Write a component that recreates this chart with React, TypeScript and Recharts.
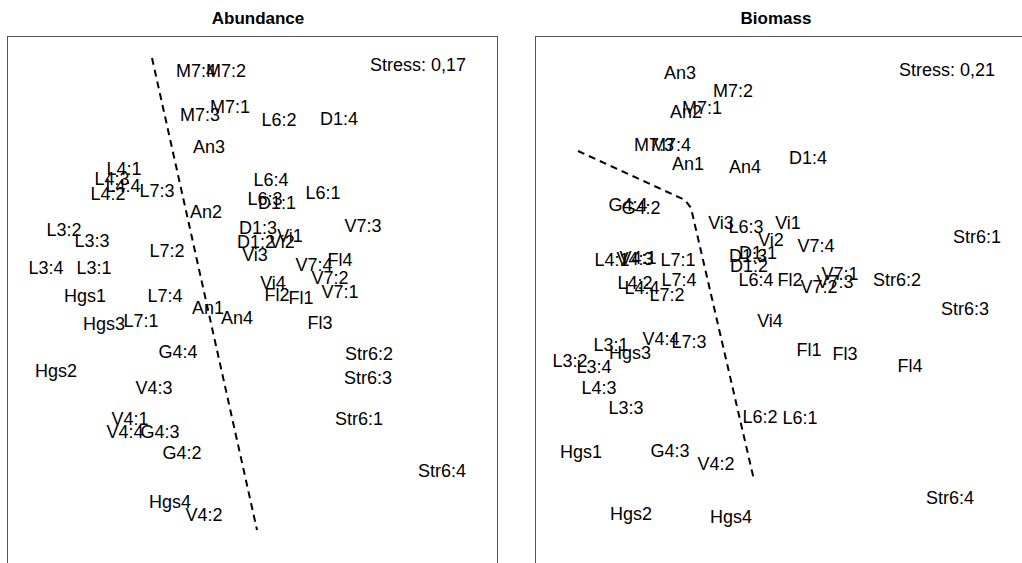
import { Scatter, ScatterChart, XAxis, YAxis } from "recharts";

// site scores (panel units, y up)
const abundanceSites = [
  { label: "M7:4", x: 189, y: 492 },
  { label: "M7:2", x: 219, y: 492 },
  { label: "M7:1", x: 223, y: 456 },
  { label: "M7:3", x: 193, y: 448 },
  { label: "An3", x: 202, y: 416 },
  { label: "L6:2", x: 272, y: 443 },
  { label: "D1:4", x: 332, y: 444 },
  { label: "L4:1", x: 117, y: 394 },
  { label: "L4:3", x: 105, y: 384 },
  { label: "L4:4", x: 116, y: 377 },
  { label: "L4:2", x: 101, y: 369 },
  { label: "L7:3", x: 150, y: 372 },
  { label: "L6:4", x: 264, y: 383 },
  { label: "L6:3", x: 258, y: 364 },
  { label: "D1:1", x: 270, y: 360 },
  { label: "L6:1", x: 316, y: 370 },
  { label: "An2", x: 199, y: 351 },
  { label: "L3:2", x: 57, y: 333 },
  { label: "L3:3", x: 85, y: 322 },
  { label: "D1:3", x: 251, y: 335 },
  { label: "D1:2", x: 249, y: 321 },
  { label: "Vi1", x: 283, y: 327 },
  { label: "Vi2", x: 275, y: 321 },
  { label: "V7:3", x: 356, y: 337 },
  { label: "L7:2", x: 160, y: 312 },
  { label: "Vi3", x: 248, y: 308 },
  { label: "L3:4", x: 39, y: 295 },
  { label: "L3:1", x: 87, y: 295 },
  { label: "V7:4", x: 307, y: 298 },
  { label: "Fl4", x: 333, y: 303 },
  { label: "V7:2", x: 323, y: 285 },
  { label: "Vi4", x: 266, y: 280 },
  { label: "Fl2", x: 270, y: 268 },
  { label: "Fl1", x: 294, y: 265 },
  { label: "V7:1", x: 333, y: 271 },
  { label: "Hgs1", x: 78, y: 267 },
  { label: "L7:4", x: 158, y: 267 },
  { label: "An1", x: 201, y: 255 },
  { label: "An4", x: 230, y: 245 },
  { label: "Hgs3", x: 97, y: 239 },
  { label: "L7:1", x: 134, y: 242 },
  { label: "Fl3", x: 313, y: 240 },
  { label: "G4:4", x: 171, y: 211 },
  { label: "Str6:2", x: 362, y: 209 },
  { label: "Hgs2", x: 49, y: 192 },
  { label: "Str6:3", x: 361, y: 185 },
  { label: "V4:3", x: 147, y: 175 },
  { label: "Str6:1", x: 352, y: 144 },
  { label: "V4:1", x: 123, y: 144 },
  { label: "V4:4", x: 118, y: 131 },
  { label: "G4:3", x: 153, y: 131 },
  { label: "G4:2", x: 175, y: 110 },
  { label: "Str6:4", x: 435, y: 92 },
  { label: "Hgs4", x: 163, y: 61 },
  { label: "V4:2", x: 197, y: 48 },
];

const biomassSites = [
  { label: "An3", x: 145, y: 490 },
  { label: "M7:2", x: 198, y: 472 },
  { label: "M7:1", x: 167, y: 455 },
  { label: "An2", x: 151, y: 451 },
  { label: "M7:3", x: 119, y: 418 },
  { label: "M7:4", x: 136, y: 418 },
  { label: "An1", x: 153, y: 399 },
  { label: "An4", x: 210, y: 396 },
  { label: "D1:4", x: 273, y: 405 },
  { label: "G4:4", x: 93, y: 358 },
  { label: "G4:2", x: 106, y: 355 },
  { label: "Vi3", x: 186, y: 340 },
  { label: "L6:3", x: 211, y: 336 },
  { label: "Vi1", x: 253, y: 340 },
  { label: "Vi2", x: 236, y: 323 },
  { label: "V7:4", x: 281, y: 317 },
  { label: "Str6:1", x: 442, y: 326 },
  { label: "L4:1", x: 77, y: 303 },
  { label: "V4:3", x: 100, y: 304 },
  { label: "V4:1", x: 103, y: 305 },
  { label: "L7:1", x: 143, y: 303 },
  { label: "D1:3", x: 213, y: 307 },
  { label: "D1:1", x: 223, y: 310 },
  { label: "D1:2", x: 214, y: 297 },
  { label: "L4:2", x: 100, y: 280 },
  { label: "L4:4", x: 107, y: 275 },
  { label: "L7:4", x: 144, y: 283 },
  { label: "L7:2", x: 132, y: 268 },
  { label: "L6:4", x: 221, y: 283 },
  { label: "Fl2", x: 255, y: 283 },
  { label: "V7:1", x: 305, y: 289 },
  { label: "V7:3", x: 300, y: 281 },
  { label: "V7:2", x: 284, y: 276 },
  { label: "Str6:2", x: 362, y: 283 },
  { label: "Vi4", x: 235, y: 242 },
  { label: "Str6:3", x: 430, y: 254 },
  { label: "V4:4", x: 126, y: 224 },
  { label: "L7:3", x: 154, y: 221 },
  { label: "L3:1", x: 76, y: 218 },
  { label: "Hgs3", x: 95, y: 210 },
  { label: "L3:2", x: 35, y: 202 },
  { label: "L3:4", x: 59, y: 196 },
  { label: "Fl1", x: 274, y: 213 },
  { label: "Fl3", x: 310, y: 209 },
  { label: "Fl4", x: 375, y: 197 },
  { label: "L4:3", x: 64, y: 175 },
  { label: "L3:3", x: 91, y: 155 },
  { label: "L6:2", x: 225, y: 146 },
  { label: "L6:1", x: 265, y: 145 },
  { label: "Hgs1", x: 46, y: 111 },
  { label: "G4:3", x: 135, y: 112 },
  { label: "V4:2", x: 181, y: 99 },
  { label: "Str6:4", x: 415, y: 65 },
  { label: "Hgs2", x: 96, y: 49 },
  { label: "Hgs4", x: 196, y: 46 },
];

const abundanceStress = [{ label: "Stress: 0,17", x: 411, y: 498 }];
const biomassStress = [{ label: "Stress: 0,21", x: 412, y: 493 }];

// group separation lines
const abundanceDivide = [
  { x: 145, y: 505 },
  { x: 250, y: 33 },
];
const biomassDivide = [
  { x: 43, y: 412 },
  { x: 150, y: 363 },
  { x: 156, y: 355 },
  { x: 219, y: 83 },
];

const FONT = "'Liberation Sans', Arial, sans-serif";
const PANEL_W = 491;
const PANEL_H = 527;

const Label = (props: any) => (
  <text
    x={props.cx}
    y={props.cy}
    dy="0.35em"
    textAnchor="middle"
    fontSize={18}
    fontFamily={FONT}
    fill="#000"
  >
    {props.payload.label}
  </text>
);

function Panel({ left, title, titleX, sites, stress, divide }: any) {
  return (
    <>
      <div
        style={{
          position: "absolute",
          left: titleX - 150,
          width: 300,
          top: 9,
          lineHeight: "20px",
          textAlign: "center",
          fontFamily: FONT,
          fontWeight: "bold",
          fontSize: 17,
        }}
      >
        {title}
      </div>
      <div
        style={{
          position: "absolute",
          left,
          top: 36,
          width: PANEL_W,
          height: PANEL_H + 20,
          border: "1px solid #555",
          boxSizing: "border-box",
        }}
      />
      <div style={{ position: "absolute", left, top: 36 }}>
        <ScatterChart width={PANEL_W} height={PANEL_H} margin={{ top: 0, right: 0, bottom: 0, left: 0 }}>
          <XAxis type="number" dataKey="x" domain={[0, PANEL_W]} hide />
          <YAxis type="number" dataKey="y" domain={[0, PANEL_H]} hide />
          <Scatter
            data={divide}
            line={{ stroke: "#000", strokeWidth: 2, strokeDasharray: "7 5" }}
            shape={() => <g />}
            isAnimationActive={false}
          />
          <Scatter data={sites} shape={Label} isAnimationActive={false} />
          <Scatter data={stress} shape={Label} isAnimationActive={false} />
        </ScatterChart>
      </div>
    </>
  );
}

export default function App() {
  return (
    <div style={{ position: "relative", width: 1022, height: 563, overflow: "hidden", background: "#fff" }}>
      <style>{"body{margin:0}"}</style>
      <Panel
        left={7}
        title="Abundance"
        titleX={258}
        sites={abundanceSites}
        stress={abundanceStress}
        divide={abundanceDivide}
      />
      <Panel
        left={535}
        title="Biomass"
        titleX={776}
        sites={biomassSites}
        stress={biomassStress}
        divide={biomassDivide}
      />
    </div>
  );
}
